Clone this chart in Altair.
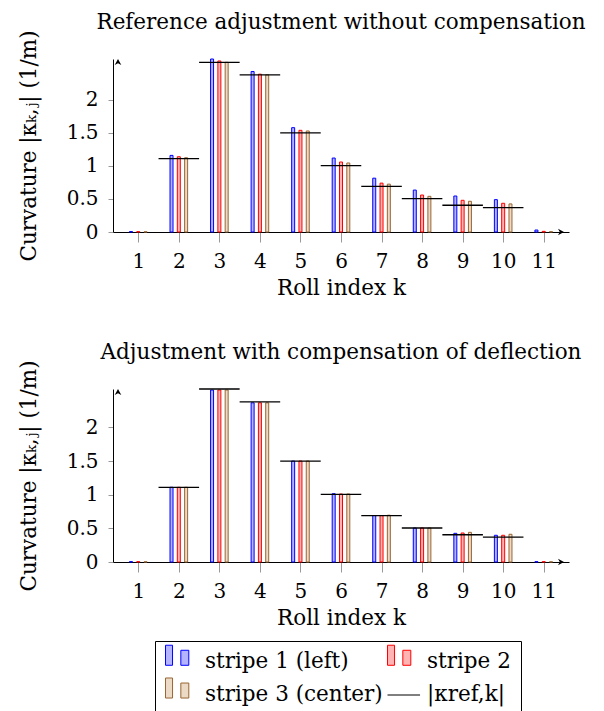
import json
import altair as alt
import pandas as pd

# ---------------- data ----------------
rolls = list(range(1, 12))
stripe_labels = ["stripe 1 (left)", "stripe 2", "stripe 3 (center)"]
ref_label = "|κref,k|"

# reference curvature |kappa_ref,k| (1/m)
ref_curvature = [0.0, 1.11, 2.57, 2.38, 1.50, 1.005, 0.69, 0.505, 0.405, 0.37, 0.0]

# reference adjustment without compensation
nocomp_stripe1 = [0.006, 1.16, 2.62, 2.43, 1.58, 1.12, 0.815, 0.635, 0.545, 0.49, 0.03]
nocomp_stripe2 = [0.005, 1.14, 2.59, 2.39, 1.54, 1.06, 0.74, 0.56, 0.48, 0.435, 0.01]
nocomp_stripe3 = [0.003, 1.125, 2.57, 2.38, 1.53, 1.045, 0.725, 0.54, 0.465, 0.425, 0.005]

# adjustment with compensation of deflection
comp_stripe1 = [0.005, 1.11, 2.555, 2.365, 1.50, 1.015, 0.69, 0.505, 0.426, 0.397, 0.005]
comp_stripe2 = [0.005, 1.11, 2.555, 2.365, 1.50, 1.01, 0.69, 0.505, 0.431, 0.397, 0.005]
comp_stripe3 = [0.003, 1.11, 2.555, 2.365, 1.50, 1.01, 0.695, 0.505, 0.441, 0.412, 0.003]

panel_titles = ["Reference adjustment without compensation",
                "Adjustment with compensation of deflection"]
panel_ymax = [2.62, 2.57]
y_ticks = [0, 0.5, 1, 1.5, 2]
x_domain = [0.5, 11.5]

# ---------------- styles ----------------
FONT = "DejaVu Serif"
FS_LABEL = 20
FS_TEXT = 21.5
series_domain = stripe_labels + [ref_label]
fill_scale = alt.Scale(domain=series_domain,
                       range=["#b3b3ff", "#ffb3b3", "#ecd9c6", "transparent"])
stroke_scale = alt.Scale(domain=series_domain,
                         range=["#0000ff", "#ff0000", "#996633", "#000000"])
STRIPE_PATH = ("M-1,-1.62H-0.33V0.29H-1Z "
               "M0.46,-1.14H1.22V0.29H0.46Z")
LINE_PATH = "M-1,0H2.1"
shape_scale = alt.Scale(domain=series_domain,
                        range=[STRIPE_PATH, STRIPE_PATH, STRIPE_PATH, LINE_PATH])
ARROW_RIGHT = "M0,0L-2,-1.1L-1.4,0L-2,1.1Z"
ARROW_UP = "M0,0L-1.1,2L0,1.4L1.1,2Z"


def bars_frame(s1, s2, s3):
    rows = []
    for lab, vals in zip(stripe_labels, [s1, s2, s3]):
        for k, v in zip(rolls, vals):
            rows.append({"k": k, "series": lab, "curv": v})
    return pd.DataFrame(rows)


ref_df = pd.DataFrame({"k": rolls, "ref": ref_curvature})

legend_def = alt.Legend(
    title=None, orient="none", legendX=42, legendY=582, columns=2,
    direction="horizontal",
    symbolSize=441, symbolStrokeWidth=1, labelFont=FONT, labelFontSize=FS_TEXT,
    labelColor="black", labelOffset=18, labelLimit=400, columnPadding=2,
    rowPadding=2, padding=10, strokeColor="black", cornerRadius=0,
)


def panel(bdf, title, ymax):
    xs = alt.Scale(domain=x_domain, nice=False, zero=False)
    ys = alt.Scale(domain=[0, ymax], nice=False, zero=True)
    x_axis = alt.Axis(values=rolls, format="d", title="Roll index k",
                      tickSize=10, labelPadding=9, titlePadding=6, grid=False)
    y_axis = alt.Axis(values=y_ticks, format="~g",
                      title="Curvature |κₖ,ⱼ| (1/m)", tickSize=5,
                      labelPadding=10, titlePadding=26, grid=False)

    bars = alt.Chart(bdf).transform_calculate(
        xpos="datum.k + (indexof(%s, datum.series) - 1) * 0.18" % json.dumps(stripe_labels)
    ).mark_bar(orient="vertical", width=3, strokeWidth=1).encode(
        x=alt.X("xpos:Q", scale=xs, axis=x_axis),
        y=alt.Y("curv:Q", scale=ys, axis=y_axis),
        fill=alt.Fill("series:N", scale=fill_scale, legend=legend_def),
        stroke=alt.Stroke("series:N", scale=stroke_scale, legend=legend_def),
    )

    rule = alt.Chart(ref_df).transform_filter("datum.ref > 0").transform_calculate(
        x0="datum.k - 0.5", x1="datum.k + 0.5"
    ).mark_rule(color="black", strokeWidth=1.3).encode(
        x=alt.X("x0:Q", scale=xs, axis=x_axis),
        x2="x1:Q",
        y=alt.Y("ref:Q", scale=ys, axis=y_axis),
    )

    xarrow = alt.Chart(pd.DataFrame({"ax": [x_domain[1]], "ay": [0.0]})).mark_point(
        shape=ARROW_RIGHT, filled=True, size=36, color="black", opacity=1
    ).encode(x=alt.X("ax:Q", scale=xs, axis=x_axis), y=alt.Y("ay:Q", scale=ys, axis=y_axis))

    yarrow = alt.Chart(pd.DataFrame({"ax": [x_domain[0]], "ay": [ymax]})).mark_point(
        shape=ARROW_UP, filled=True, size=36, color="black", opacity=1
    ).encode(x=alt.X("ax:Q", scale=xs, axis=x_axis), y=alt.Y("ay:Q", scale=ys, axis=y_axis))

    leg = alt.Chart(pd.DataFrame({"series": series_domain})).transform_filter(
        "false"
    ).mark_point(filled=True, opacity=1, strokeWidth=1).encode(
        fill=alt.Fill("series:N", scale=fill_scale, legend=legend_def),
        stroke=alt.Stroke("series:N", scale=stroke_scale, legend=legend_def),
        shape=alt.Shape("series:N", scale=shape_scale, legend=legend_def),
    )

    return alt.layer(bars, rule, xarrow, yarrow, leg).properties(
        width=456, height=173,
        title=alt.TitleParams(title, font=FONT, fontSize=FS_TEXT, fontWeight="normal",
                              anchor="middle", offset=-4, color="black"),
    )


top = panel(bars_frame(nocomp_stripe1, nocomp_stripe2, nocomp_stripe3),
            panel_titles[0], panel_ymax[0])
bottom = panel(bars_frame(comp_stripe1, comp_stripe2, comp_stripe3),
               panel_titles[1], panel_ymax[1])

chart = alt.vconcat(top, bottom, spacing=42).properties(
    padding={"left": 9, "top": 3, "right": 5, "bottom": 5}
).configure_view(stroke="transparent").configure_axis(
    labelFont=FONT, labelFontSize=FS_LABEL, labelColor="black",
    titleFont=FONT, titleFontSize=FS_TEXT, titleColor="black", titleFontWeight="normal",
    domainColor="black", domainWidth=1, tickColor="#999999", tickWidth=1,
)

chart.save("out.html", embed_options={"renderer": "svg", "actions": False})
